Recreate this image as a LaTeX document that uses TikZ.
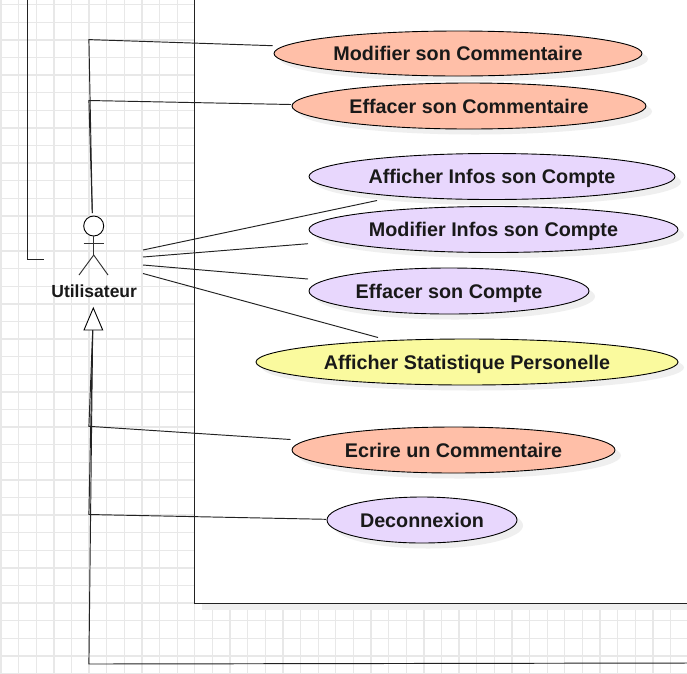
\documentclass[tikz,border=0pt]{standalone}
\usepackage{fontspec}
\setmainfont{Liberation Sans}
\usetikzlibrary{shapes.geometric,shadows}
\definecolor{gridc}{HTML}{E8E8E8}
\definecolor{salmon}{HTML}{FFBFA8}
\definecolor{lilac}{HTML}{E8D7FD}
\definecolor{lemon}{HTML}{FAFA9E}
\definecolor{shadowc}{HTML}{EFEFEF}
\definecolor{linec}{HTML}{222222}
\tikzset{
  usecase/.style={ellipse,draw=black,line width=.9pt,inner sep=0pt,
    text height=14.3pt,text depth=.2pt,
    font=\fontsize{19.75}{22}\selectfont\bfseries,text=black!90,
    general shadow={shadow xshift=6pt,shadow yshift=-5.5pt,fill=shadowc}},
  assoc/.style={draw=linec,line width=.95pt},
  actorline/.style={draw=linec,line width=.95pt},
}
\begin{document}
\begin{tikzpicture}[x=1pt,y=-1pt]
\useasboundingbox (0,0) rectangle (687,673);
\clip (0,0) rectangle (687,673);
\fill[white] (0,0) rectangle (687,673);
% grid
\foreach \k in {0,...,39} {\draw[gridc,line width=1.3pt] ({1+17.62*\k},0) -- ({1+17.62*\k},673);}
\foreach \k in {0,...,38} {\draw[gridc,line width=1.3pt] (0,{4.7+17.6*\k}) -- (687,{4.7+17.6*\k});}
% system boundary
\fill[shadowc] (202,603) rectangle (687,610);
\fill[white] (194.7,-5) rectangle (700,603);
\draw[linec,line width=1pt] (194.7,-5) -- (194.7,603) -- (700,603);
% use cases
\node[usecase,fill=salmon,minimum width=368pt,minimum height=45pt] (mc) at (458,53.5) {Modifier son Commentaire};
\node[usecase,fill=salmon,minimum width=354pt,minimum height=46pt] (ec) at (469,106) {Effacer son Commentaire};
\node[usecase,fill=lilac,minimum width=366pt,minimum height=46pt] (ai) at (492,176.5) {Afficher Infos son Compte};
\node[usecase,fill=lilac,minimum width=369pt,minimum height=46pt] (mi) at (493.5,229.5) {Modifier Infos son Compte};
\node[usecase,fill=lilac,minimum width=280pt,minimum height=46pt] (ep) at (449,291) {Effacer son Compte};
\node[usecase,fill=lemon,minimum width=422pt,minimum height=46pt] (as) at (467,362) {Afficher Statistique Personelle};
\node[usecase,fill=salmon,minimum width=323pt,minimum height=46pt] (wc) at (453.5,450) {Ecrire un Commentaire};
\node[usecase,fill=lilac,minimum width=190pt,minimum height=46pt] (dc) at (422,520) {Deconnexion};
% actor
\node[circle,draw=black,line width=.9pt,fill=white,minimum size=20pt,inner sep=0pt] (head) at (93.7,226) {};
\coordinate (neck) at (93.7,236);
\coordinate (hip) at (93.7,255);
\draw[actorline,draw=black!80] (neck) -- (hip);
\draw[actorline,draw=black!80] (83.5,243) -- (104,243);
\draw[actorline,draw=black!80] (79,275) -- (hip) -- (108,275);
\node[font=\fontsize{17.5}{20}\selectfont\bfseries,text=black!90] (lab) at (94.2,291) {Utilisateur};
% free ends of the connectors
\coordinate (topA) at (92.3,213);
\coordinate (bend1) at (88.9,39.6);
\coordinate (bend2) at (88.9,100.5);
\coordinate (mcE) at (272.7,45.7);
\coordinate (ecE) at (291,104.5);
\coordinate (a1) at (143,250);
\coordinate (a2) at (143,257);
\coordinate (a3) at (143,265);
\coordinate (a4) at (143,273.5);
\coordinate (aiE) at (377,200.5);
\coordinate (miE) at (308,243.7);
\coordinate (epE) at (308,279);
\coordinate (asE) at (378,337.5);
\coordinate (triTop) at (93.3,308);
\coordinate (triL) at (84,330);
\coordinate (triR) at (102.7,330);
\coordinate (triB) at (92.7,330);
\coordinate (bend3) at (88.9,426.3);
\coordinate (bend4) at (88.9,514.5);
\coordinate (bend5) at (88.9,664);
\coordinate (wcE) at (290.5,439.5);
\coordinate (dcE) at (326,519.3);
\coordinate (rightE) at (690,663);
\coordinate (ltop) at (27.7,-3);
\coordinate (lbend) at (27.7,259);
\coordinate (lend) at (44,259);
% connectors
\draw[assoc,line join=miter] (ltop) -- (lbend) -- (lend);
\draw[assoc] (topA) -- (bend1) -- (mcE);
\draw[assoc] (topA) -- (bend2) -- (ecE);
\draw[assoc] (a1) -- (aiE);
\draw[assoc] (a2) -- (miE);
\draw[assoc] (a3) -- (epE);
\draw[assoc] (a4) -- (asE);
\draw[assoc] (triB) -- (bend3) -- (wcE);
\draw[assoc] (triB) -- (bend4) -- (dcE);
\draw[assoc] (triB) -- (bend5) -- (rightE);
\draw[draw=black,line width=.9pt,fill=white] (triTop) -- (triR) -- (triL) -- cycle;
\end{tikzpicture}
\end{document}
